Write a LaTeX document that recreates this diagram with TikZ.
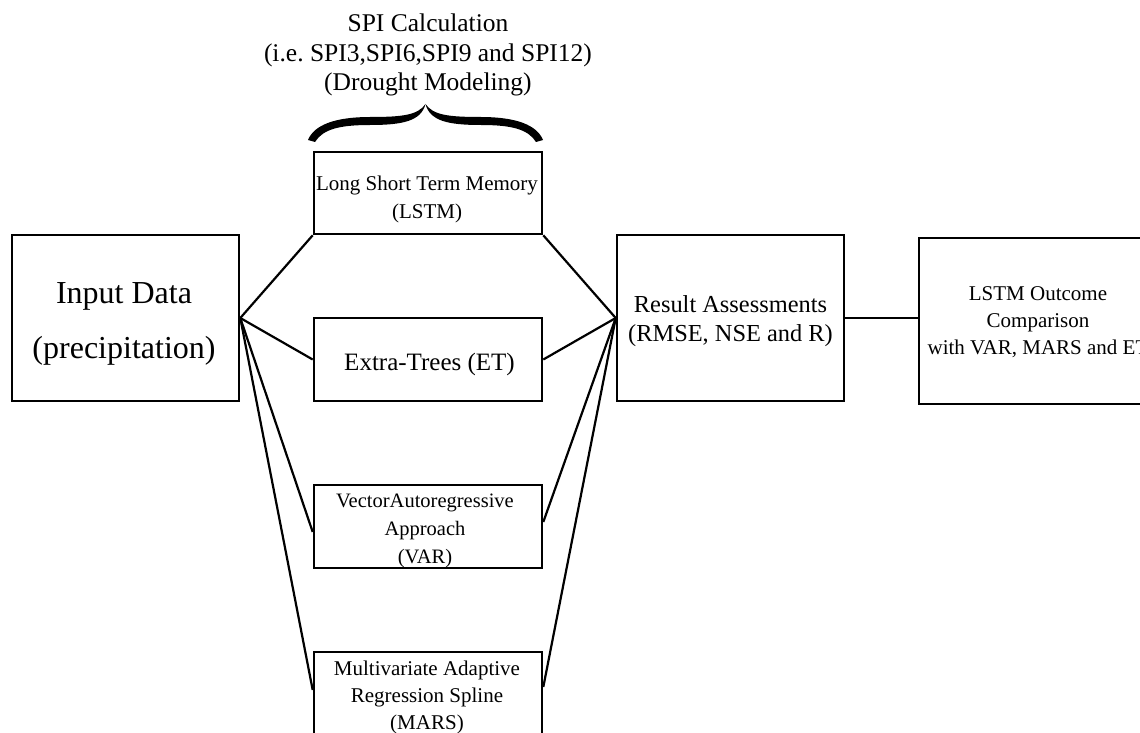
\documentclass[tikz,border=0pt]{standalone}
\usepackage{fontspec}
\setmainfont{Liberation Serif}
\usetikzlibrary{calc}
\begin{document}
\begin{tikzpicture}[x=1pt,y=-1pt,
  box/.style={draw, line width=2.6pt, inner sep=0pt, rectangle},
  wire/.style={line width=2.2pt},
  txt/.style={align=center, inner sep=0pt}]
\useasboundingbox (0,0) rectangle (1140,733);
\clip (0,0) rectangle (1140,733);

% boxes
\node[box, minimum width=227pt, minimum height=166pt] (input) at (125.5,318) {};
\node[box, minimum width=228pt, minimum height=82pt] (lstm) at (428,193) {};
\node[box, minimum width=228pt, minimum height=83pt] (et) at (428,359.5) {};
\node[box, minimum width=228pt, minimum height=83pt] (var) at (428,526.5) {};
\node[box, minimum width=228pt, minimum height=120pt] (mars) at (428,712) {};
\node[box, minimum width=227pt, minimum height=166pt] (result) at (730.5,318) {};
\node[box, minimum width=246pt, minimum height=166pt] (outcome) at (1042,321) {};

% texts
\node[txt, font=\fontsize{25.5}{29.5}\selectfont] (title) at (428,55.6)
  {\strut SPI Calculation\\(i.e.\ SPI3,SPI6,SPI9 and SPI12)\\(Drought Modeling)\strut};
\node[txt, font=\fontsize{32}{55}\selectfont] (inputtxt) at (124,319.5)
  {\strut Input Data\\(precipitation)\strut};
\node[txt, font=\fontsize{21}{28}\selectfont] (lstmtxt) at (427,198.4)
  {\strut Long Short Term Memory\\(LSTM)\strut};
\node[txt, font=\fontsize{25}{30}\selectfont] (ettxt) at (429.5,364)
  {\strut Extra-Trees (ET)};
\node[txt, font=\fontsize{20.5}{28}\selectfont] (vartxt) at (425,529.4)
  {\strut VectorAutoregressive\\Approach\\(VAR)\strut};
\node[txt, font=\fontsize{21}{27}\selectfont] (marstxt) at (427,696.6)
  {\strut Multivariate Adaptive\\Regression Spline\\(MARS)\strut};
\node[txt, font=\fontsize{24.4}{29}\selectfont] (resulttxt) at (730.5,320.7)
  {\strut Result Assessments\\(RMSE, NSE and R)\strut};
\node[txt, font=\fontsize{21}{27}\selectfont] (outcometxt) at (1038,321.6)
  {\strut LSTM Outcome\\Comparison\\with VAR, MARS and ET\strut};

% curly brace over the model boxes
\fill (308,140) .. controls (314,125) and (335,117) .. (370,117)
  .. controls (403,117) and (418,115) .. (425.5,104)
  .. controls (421,121) and (403,125) .. (370,125)
  .. controls (340,125) and (323,129) .. (315,142) -- cycle;
\fill (543,140) .. controls (537,125) and (516,117) .. (481,117)
  .. controls (448,117) and (433,115) .. (425.5,104)
  .. controls (430,121) and (448,125) .. (481,125)
  .. controls (511,125) and (528,129) .. (536,142) -- cycle;

% connectors
\draw[wire] (input.east) -- (lstm.south west);
\draw[wire] (input.east) -- (et.west);
\draw[wire] (input.east) -- ([yshift=-5.5pt]var.west);
\draw[wire] (input.east) -- ([yshift=22pt]mars.west);
\draw[wire] (lstm.south east) -- (result.west);
\draw[wire] (et.east) -- (result.west);
\draw[wire] ([yshift=4.5pt]var.east) -- (result.west);
\draw[wire] ([yshift=25pt]mars.east) -- (result.west);
\draw[wire] (result.east) -- (result.east -| outcome.west);
\end{tikzpicture}
\end{document}
